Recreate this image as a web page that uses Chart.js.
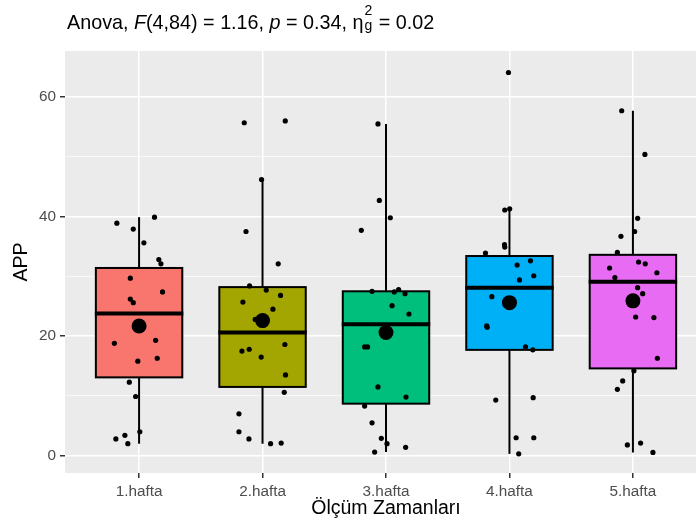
<!DOCTYPE html>
<html>
<head>
<meta charset="utf-8">
<script src="https://cdn.jsdelivr.net/npm/chart.js@4.4.0/dist/chart.umd.min.js"></script>
<style>
  body { margin: 0; background: #fff; overflow: hidden; }
  /* the panel runs on past the right edge of the page */
  #wrap { width: 696px; height: 525px; overflow: hidden; }
</style>
</head>
<body>
<div id="wrap"><canvas id="boxChart" width="707" height="525"></canvas></div>
<script>
const categories = ['1.hafta', '2.hafta', '3.hafta', '4.hafta', '5.hafta'];
const boxColors = ['#F8766D', '#A3A500', '#00BF7D', '#00B0F6', '#E76BF3'];

// Box statistics per week
const whiskerLow = [2.0, 2.0, 0.6, 0.3, 0.55];
const q1 = [13.1, 11.5, 8.7, 17.7, 14.6];
const medians = [23.8, 20.6, 22.0, 28.1, 29.1];
const q3 = [31.4, 28.2, 27.5, 33.4, 33.6];
const whiskerHigh = [39.9, 46.2, 55.5, 41.3, 57.7];
const means = [21.7, 22.6, 20.6, 25.6, 25.9];

// Individual APP scores and their horizontal jitter
const week1 = [38.9, 39.9, 37.9, 35.6, 32.8, 32.1, 29.7, 27.4, 26.2, 25.6, 18.8, 19.3, 15.8, 16.3, 12.3, 9.9, 4.0, 2.8, 3.4, 2.0];
const jitter1 = [-0.18, 0.125, -0.047, 0.039, 0.16, 0.177, -0.071, 0.19, -0.071, -0.047, -0.2, 0.134, -0.01, 0.147, -0.079, -0.028, 0.006, -0.188, -0.115, -0.091];
const week2 = [55.7, 56.0, 46.2, 37.5, 32.1, 28.4, 27.7, 26.8, 25.7, 24.5, 22.8, 18.6, 17.5, 17.8, 16.5, 13.5, 10.6, 7.0, 4.0, 2.8, 2.0, 2.1];
const jitter2 = [-0.148, 0.184, -0.008, -0.134, 0.127, -0.105, 0.03, 0.146, -0.159, 0.084, -0.059, 0.181, -0.167, -0.108, -0.011, 0.186, 0.176, -0.191, -0.191, -0.11, 0.065, 0.151];
const week3 = [55.5, 42.7, 39.8, 37.7, 27.5, 27.4, 27.8, 27.1, 25.1, 23.7, 18.2, 18.2, 11.5, 9.8, 8.3, 5.5, 2.9, 2.0, 1.4, 0.6];
const jitter3 = [-0.065, -0.054, 0.035, -0.2, -0.113, 0.067, 0.102, 0.154, 0.049, 0.186, -0.173, -0.149, -0.065, 0.162, -0.173, -0.113, -0.038, 0.008, 0.159, -0.092];
const week4 = [64.1, 41.1, 41.3, 35.3, 34.9, 33.9, 32.6, 31.9, 30.1, 29.4, 26.6, 21.7, 21.5, 18.2, 17.7, 9.3, 9.7, 3.0, 3.0, 0.3];
const jitter4 = [-0.008, -0.038, 0.002, -0.04, -0.038, -0.194, 0.17, 0.062, 0.197, 0.081, -0.143, -0.184, -0.181, 0.13, 0.189, -0.111, 0.192, 0.054, 0.197, 0.075];
const week5 = [57.7, 50.4, 39.7, 37.5, 36.7, 34.0, 32.4, 32.1, 31.4, 30.6, 29.8, 28.1, 27.1, 23.2, 23.1, 16.3, 14.2, 12.5, 11.1, 1.8, 2.1, 0.55];
const jitter5 = [-0.091, 0.097, 0.038, 0.014, -0.097, -0.126, 0.046, 0.1, -0.189, 0.194, -0.146, 0.038, 0.079, 0.022, 0.17, 0.198, 0.008, -0.083, -0.126, -0.045, 0.062, 0.162];

const yTicks = [0, 20, 40, 60];

const weeks = [week1, week2, week3, week4, week5];
const jitters = [jitter1, jitter2, jitter3, jitter4, jitter5];

const FONT = "'Liberation Sans', Arial, sans-serif";
Chart.defaults.font.family = FONT;

// Scatter data for jittered scores and group means
const scorePoints = [];
weeks.forEach((values, i) => {
    values.forEach((v, j) => scorePoints.push({ x: i + 1 + jitters[i][j], y: v }));
});
const meanPoints = means.map((m, i) => ({ x: i + 1, y: m }));

// Grey panel behind the grid
const panelBackground = {
    id: 'panelBackground',
    beforeDraw(chart) {
        const { ctx, chartArea: a } = chart;
        ctx.save();
        ctx.fillStyle = '#EBEBEB';
        ctx.fillRect(a.left, a.top, a.right - a.left, a.bottom - a.top);
        ctx.restore();
    }
};

// Whiskers, boxes and median bars
const boxPlot = {
    id: 'boxPlot',
    beforeDatasetsDraw(chart) {
        const { ctx, scales: { x, y } } = chart;
        const half = x.getPixelForValue(1.35) - x.getPixelForValue(1);
        ctx.save();
        ctx.strokeStyle = '#000';
        categories.forEach((c, i) => {
            const cx = x.getPixelForValue(i + 1);
            ctx.lineWidth = 2;
            ctx.beginPath();
            ctx.moveTo(cx, y.getPixelForValue(whiskerLow[i]));
            ctx.lineTo(cx, y.getPixelForValue(whiskerHigh[i]));
            ctx.stroke();

            const top = y.getPixelForValue(q3[i]);
            const bottom = y.getPixelForValue(q1[i]);
            ctx.fillStyle = boxColors[i];
            ctx.fillRect(cx - half, top, half * 2, bottom - top);
            ctx.strokeRect(cx - half, top, half * 2, bottom - top);

            const my = y.getPixelForValue(medians[i]);
            ctx.lineWidth = 4;
            ctx.beginPath();
            ctx.moveTo(cx - half - 1, my);
            ctx.lineTo(cx + half + 1, my);
            ctx.stroke();
        });
        ctx.restore();
    }
};

// Test statistic heading with italic and sub/superscript parts
const anovaTitle = {
    id: 'anovaTitle',
    afterDraw(chart) {
        const ctx = chart.ctx;
        const size = 19.75;
        const small = 14;
        let x = 67;
        const base = 29;
        const put = (text, style) => {
            ctx.font = style + size + 'px ' + FONT;
            ctx.fillText(text, x, base);
            x += ctx.measureText(text).width;
        };
        ctx.save();
        ctx.fillStyle = '#000';
        ctx.textBaseline = 'alphabetic';
        put('Anova, ', '');
        put('F', 'italic ');
        put('(4,84) = 1.16, ', '');
        put('p', 'italic ');
        put(' = 0.34, η', '');
        x += 1;
        ctx.font = small + 'px ' + FONT;
        ctx.fillText('g', x, base + 1);
        ctx.fillText('2', x, base - 14);
        x += ctx.measureText('g').width + 1;
        put(' = 0.02', '');
        ctx.restore();
    }
};

new Chart(document.getElementById('boxChart'), {
    type: 'scatter',
    data: {
        datasets: [
            {
                data: meanPoints,
                backgroundColor: '#000',
                borderWidth: 0,
                pointRadius: 7.5,
                order: 0
            },
            {
                data: scorePoints,
                backgroundColor: '#000',
                borderWidth: 0,
                pointRadius: 2.6,
                order: 1
            }
        ]
    },
    options: {
        responsive: false,
        animation: false,
        layout: { autoPadding: false, padding: { top: 51, right: 0, bottom: 0, left: 0 } },
        plugins: {
            legend: { display: false },
            tooltip: { enabled: false }
        },
        scales: {
            x: {
                type: 'linear',
                min: 0.4,
                max: 5.6,
                afterFit: (scale) => {
                    scale.height = 52;
                    scale.paddingLeft = 0;
                    scale.paddingRight = 0;
                },
                border: { display: false },
                grid: { color: '#FFFFFF', lineWidth: 1.5, tickColor: '#333333', tickLength: 5 },
                ticks: {
                    stepSize: 1,
                    includeBounds: false,
                    autoSkip: false,
                    maxRotation: 0,
                    padding: 5,
                    color: '#4D4D4D',
                    font: { size: 15.3 },
                    callback: (v) => categories[v - 1] ?? ''
                },
                title: {
                    display: true,
                    text: 'Ölçüm Zamanları',
                    color: '#000',
                    font: { size: 19.5 },
                    padding: { top: 0, bottom: 5 }
                }
            },
            y: {
                min: -2.9,
                max: 67.7,
                afterFit: (scale) => { scale.width = 65; },
                border: { display: false },
                grid: {
                    color: '#FFFFFF',
                    lineWidth: (c) => (c.tick && yTicks.includes(c.tick.value) ? 1.5 : 0.7),
                    tickColor: (c) => (c.tick && yTicks.includes(c.tick.value) ? '#333333' : 'rgba(0,0,0,0)'),
                    tickLength: 5
                },
                ticks: {
                    stepSize: 10,
                    includeBounds: false,
                    padding: 4,
                    color: '#4D4D4D',
                    font: { size: 15.3 },
                    callback: (v) => (yTicks.includes(v) ? v : '')
                },
                title: {
                    display: true,
                    text: 'APP',
                    color: '#000',
                    font: { size: 19.5 },
                    padding: { top: 10, bottom: 0 }
                }
            }
        }
    },
    plugins: [panelBackground, boxPlot, anovaTitle]
});
</script>
</body>
</html>
